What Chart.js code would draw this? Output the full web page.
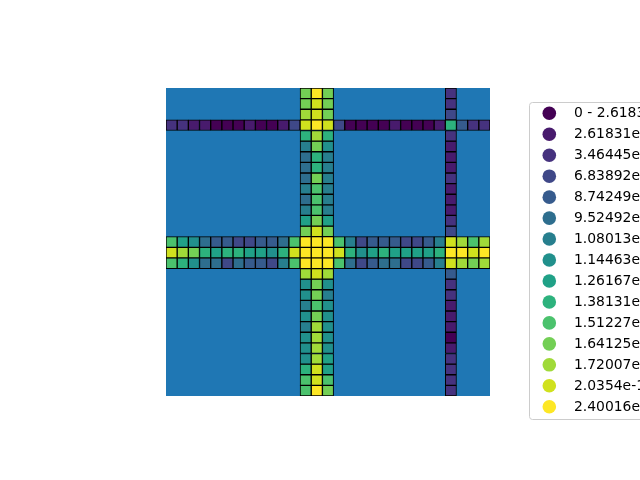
<!DOCTYPE html>
<html>
<head>
<meta charset="utf-8">
<script src="https://cdn.jsdelivr.net/npm/chart.js@4/dist/chart.umd.min.js"></script>
<style>
  html, body { margin: 0; padding: 0; background: #ffffff; }
  #wrap { width: 640px; height: 480px; }
</style>
</head>
<body>
<div id="wrap"><canvas id="c" width="640" height="480"></canvas></div>
<script>
// ---- DATA ----
const nCols = 29;
const nRows = 29;
// class index (0..14) of each cell along the coloured lines
const rowLines = [3, 14, 15, 16];
const row3  = [2,2,1,1,0,0,0,1,0,0,1,3, 13,14,13, 3,0,0,0,0,1,0,0,0,1, 9, 4,2,2];
const row14 = [10,8,7,5,4,4,3,3,4,4,5,10, 14,14,14, 10,6,3,4,4,4,3,3,4,6, 13, 12,10,12];
const row15 = [13,12,11,9,8,9,9,8,8,7,9,13, 14,14,14, 13,9,7,8,9,8,8,8,8,9, 14, 14,13,14];
const row16 = [10,9,7,5,5,3,5,4,4,3,6,10, 14,14,14, 10,5,3,4,5,5,3,3,4,6, 13, 12,11,12];
const colLines = [12, 13, 14, 25];
const col12 = [11,11,12,13,9,6,5,5,5,6,5,6,8,11, 14,14,14, 12,7,7,6,7,6,7,7,7,9,10,10];
const col13 = [14,13,13,14,12,11,9,9,11,10,10,10,11,13, 14,14,14, 13,11,11,10,11,12,12,12,12,13,13,14];
const col14 = [11,11,11,13,9,7,6,6,6,6,6,6,8,11, 14,14,14, 12,7,6,7,7,7,7,7,8,8,10,11];
const col25 = [2,2,3,9,2,1,1,1,2,1,1,1,2,3, 13,14,13, 4,2,2,1,1,1,0,1,2,2,2,2];
// legend class breaks
const classBreaks = [0, 2.61831e-11, 3.46445e-11, 6.83892e-11, 8.74249e-11, 9.52492e-11,
  1.08013e-10, 1.14463e-10, 1.26167e-10, 1.38131e-10, 1.51227e-10, 1.64125e-10,
  1.72007e-10, 2.0354e-10, 2.40016e-10, 3.11872e-10];
const classColors = ['#440154','#481b6d','#46327e','#3f4888','#365b8d','#2e6e8e','#277f8e',
  '#21908c','#20a187','#2db27d','#4bc26d','#73cf55','#a0da39','#d0e11e','#fde725'];
const backgroundColor = '#1f77b4';

// ---- build grid ----
const rowArrays = [row3, row14, row15, row16];
const colArrays = [col12, col13, col14, col25];
const grid = [];
for (let r = 0; r < nRows; r++) grid.push(new Array(nCols).fill(null));
rowLines.forEach((r, k) => rowArrays[k].forEach((v, c) => { grid[r][c] = v; }));
colLines.forEach((c, k) => colArrays[k].forEach((v, r) => { grid[r][c] = v; }));

const labels = Array.from({length: nCols}, (_, i) => String(i));
const datasets = grid.map((rowVals, r) => ({
  label: 'row ' + r,
  data: rowVals.map(v => v === null ? null : [r, r + 1]),
  backgroundColor: rowVals.map(v => v === null ? 'rgba(0,0,0,0)' : classColors[v]),
  borderColor: '#000000',
  borderWidth: 1,
  borderSkipped: false,
  grouped: false,
  barPercentage: 1,
  categoryPercentage: 1
}));

const fmt = v => v === 0 ? '0' : String(v);
const legendLabels = classColors.map((c, i) => fmt(classBreaks[i]) + ' - ' + fmt(classBreaks[i + 1]));

const bgPlugin = {
  id: 'areaBg',
  beforeDatasetsDraw(chart) {
    const a = chart.chartArea, ctx = chart.ctx;
    ctx.save();
    ctx.fillStyle = backgroundColor;
    ctx.fillRect(a.left, a.top, a.right - a.left, a.bottom - a.top);
    ctx.restore();
  }
};

const legendPlugin = {
  id: 'classLegend',
  afterDraw(chart) {
    const ctx = chart.ctx;
    ctx.save();
    const x0 = 529.5, y0 = 102.5, w = 200, h = 317, rad = 3;
    ctx.beginPath();
    ctx.moveTo(x0 + rad, y0);
    ctx.lineTo(x0 + w - rad, y0);
    ctx.arcTo(x0 + w, y0, x0 + w, y0 + rad, rad);
    ctx.lineTo(x0 + w, y0 + h - rad);
    ctx.arcTo(x0 + w, y0 + h, x0 + w - rad, y0 + h, rad);
    ctx.lineTo(x0 + rad, y0 + h);
    ctx.arcTo(x0, y0 + h, x0, y0 + h - rad, rad);
    ctx.lineTo(x0, y0 + rad);
    ctx.arcTo(x0, y0, x0 + rad, y0, rad);
    ctx.closePath();
    ctx.fillStyle = 'rgba(255,255,255,0.8)';
    ctx.fill();
    ctx.strokeStyle = '#cccccc';
    ctx.lineWidth = 1;
    ctx.stroke();
    ctx.font = '13.9px "DejaVu Sans"';
    ctx.textBaseline = 'middle';
    ctx.textAlign = 'left';
    legendLabels.forEach((t, i) => {
      const cy = 113.3 + i * 20.96;
      ctx.beginPath();
      ctx.arc(549.3, cy, 6.8, 0, Math.PI * 2);
      ctx.fillStyle = classColors[i];
      ctx.fill();
      ctx.fillStyle = '#000000';
      ctx.fillText(t, 574, cy + 0.5);
    });
    ctx.restore();
  }
};

Chart.defaults.font.family = '"DejaVu Sans", sans-serif';
new Chart(document.getElementById('c'), {
  type: 'bar',
  data: { labels: labels, datasets: datasets },
  options: {
    responsive: false,
    devicePixelRatio: 1,
    animation: false,
    layout: { padding: { left: 166, right: 150, top: 88, bottom: 84 } },
    scales: {
      x: { display: false, offset: true },
      y: { display: false, min: 0, max: nRows, reverse: true }
    },
    plugins: {
      legend: { display: false },
      tooltip: { enabled: false }
    }
  },
  plugins: [bgPlugin, legendPlugin]
});
</script>
</body>
</html>
